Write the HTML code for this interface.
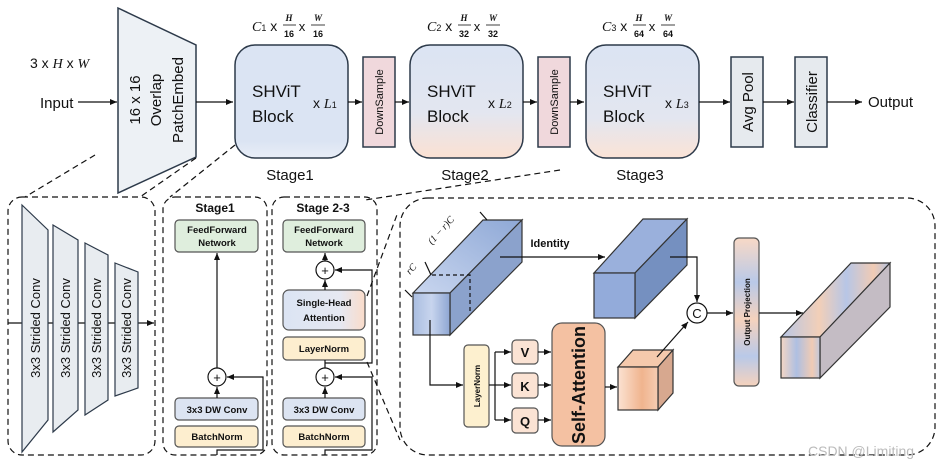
<!DOCTYPE html>
<html><head><meta charset="utf-8"><style>
html,body{margin:0;padding:0;background:#fff}
svg{display:block}
text{font-family:"Liberation Sans",sans-serif;fill:#111}
.b{font-weight:bold}
.m{font-family:"Liberation Serif",serif;font-style:italic}
</style></head><body>
<svg width="941" height="465" viewBox="0 0 941 465" xmlns="http://www.w3.org/2000/svg">
<defs>
<marker id="a" markerWidth="8" markerHeight="8" refX="7" refY="4" orient="auto" markerUnits="userSpaceOnUse"><path d="M0,1 L7,4 L0,7z" fill="#111"/></marker>
<linearGradient id="s1" x1="0" y1="0" x2="0" y2="1"><stop offset="0" stop-color="#dbe4f3"/><stop offset="0.85" stop-color="#dbe4f3"/><stop offset="1" stop-color="#e9eef7"/></linearGradient>
<linearGradient id="s2" x1="0" y1="0" x2="0" y2="1"><stop offset="0" stop-color="#dbe4f3"/><stop offset="0.6" stop-color="#e3e6f0"/><stop offset="1" stop-color="#fbe1d3"/></linearGradient>
<linearGradient id="s3" x1="0" y1="0" x2="0" y2="1"><stop offset="0" stop-color="#dbe4f3"/><stop offset="0.65" stop-color="#e3e6f0"/><stop offset="1" stop-color="#fbe3d6"/></linearGradient>
<linearGradient id="sha" x1="0" y1="0" x2="1" y2="0"><stop offset="0" stop-color="#dbe4f3"/><stop offset="0.7" stop-color="#e6e8f2"/><stop offset="1" stop-color="#fadcca"/></linearGradient>
<linearGradient id="cf" x1="0" y1="0" x2="1" y2="0"><stop offset="0" stop-color="#a9bde0"/><stop offset="0.5" stop-color="#c8d5ee"/><stop offset="1" stop-color="#8ea6d3"/></linearGradient>
<linearGradient id="ct" x1="0" y1="1" x2="1" y2="0"><stop offset="0" stop-color="#c9d6ef"/><stop offset="1" stop-color="#8ea8d6"/></linearGradient>
<linearGradient id="oc" x1="0" y1="0" x2="1" y2="0"><stop offset="0" stop-color="#fbe2d2"/><stop offset="0.6" stop-color="#f0b48e"/><stop offset="1" stop-color="#f6cdb3"/></linearGradient>
<linearGradient id="op" x1="0" y1="0" x2="0" y2="1"><stop offset="0" stop-color="#f8d9c6"/><stop offset="0.3" stop-color="#b9c9e8"/><stop offset="0.55" stop-color="#f5d2bd"/><stop offset="0.8" stop-color="#b9c9e8"/><stop offset="1" stop-color="#f5d2bd"/></linearGradient>
<linearGradient id="fc" x1="0" y1="0" x2="1" y2="0"><stop offset="0" stop-color="#f4d6c4"/><stop offset="0.4" stop-color="#aebfe2"/><stop offset="0.8" stop-color="#f0cbb4"/><stop offset="1" stop-color="#c0c8dc"/></linearGradient>
<linearGradient id="ft" x1="0" y1="0" x2="1" y2="0"><stop offset="0" stop-color="#b7c6e6"/><stop offset="0.35" stop-color="#f2cfb8"/><stop offset="0.6" stop-color="#b7c6e6"/><stop offset="0.85" stop-color="#f1cbb4"/><stop offset="1" stop-color="#b3c2e0"/></linearGradient>
</defs>
<g stroke="#111" stroke-width="1.2" fill="none">
<!-- top row -->
<line x1="78" y1="102" x2="117" y2="102" marker-end="url(#a)"/>
<polygon points="118,8 196,45 196,157 118,193" fill="#edf1f5" stroke="#2d3a4a" stroke-width="1.5"/>
<line x1="196" y1="102" x2="233" y2="102" marker-end="url(#a)"/>
<rect x="235" y="45" width="113" height="113" rx="20" fill="url(#s1)" stroke="#2d3a4a" stroke-width="1.5"/>
<line x1="348" y1="102" x2="362" y2="102" marker-end="url(#a)"/>
<rect x="363" y="57" width="32" height="90" fill="#f0d8dc" stroke="#2d3a4a" stroke-width="1.5"/>
<line x1="395" y1="102" x2="409" y2="102" marker-end="url(#a)"/>
<rect x="410" y="45" width="113" height="113" rx="20" fill="url(#s2)" stroke="#2d3a4a" stroke-width="1.5"/>
<line x1="523" y1="102" x2="537" y2="102" marker-end="url(#a)"/>
<rect x="538" y="57" width="32" height="90" fill="#f0d8dc" stroke="#2d3a4a" stroke-width="1.5"/>
<line x1="570" y1="102" x2="584" y2="102" marker-end="url(#a)"/>
<rect x="586" y="45" width="113" height="113" rx="20" fill="url(#s3)" stroke="#2d3a4a" stroke-width="1.5"/>
<line x1="699" y1="102" x2="730" y2="102" marker-end="url(#a)"/>
<rect x="731" y="57" width="32" height="90" fill="#e6eaee" stroke="#2d3a4a" stroke-width="1.5"/>
<line x1="763" y1="102" x2="794" y2="102" marker-end="url(#a)"/>
<rect x="795" y="57" width="32" height="90" fill="#e6eaee" stroke="#2d3a4a" stroke-width="1.5"/>
<line x1="827" y1="102" x2="862" y2="102" marker-end="url(#a)"/>
<!-- dashed connectors -->
<g stroke-dasharray="6,4">
<line x1="95" y1="155" x2="25" y2="197"/>
<line x1="196" y1="158" x2="140" y2="197"/>
<line x1="235" y1="145" x2="170" y2="197"/>
<line x1="560" y1="170" x2="365" y2="200"/>
<line x1="367" y1="296" x2="398" y2="212"/>
<line x1="367" y1="362" x2="400" y2="440"/>
<rect x="8" y="197" width="147" height="258" rx="14"/>
<rect x="163" y="197" width="104" height="258" rx="12"/>
<rect x="272" y="197" width="105" height="258" rx="12"/>
<rect x="400" y="198" width="535" height="257" rx="28"/>
</g>
<!-- panel 1 -->
<line x1="8" y1="323" x2="154" y2="323" marker-end="url(#a)"/>
<polygon points="22,205 48,230 48,420 22,452" fill="#e8ecf0" stroke="#2d3a4a"/>
<polygon points="53,225 78,240 78,410 53,432" fill="#e8ecf0" stroke="#2d3a4a"/>
<polygon points="85,243 108,255 108,400 85,415" fill="#e8ecf0" stroke="#2d3a4a"/>
<polygon points="115,263 138,272 138,388 115,396" fill="#e8ecf0" stroke="#2d3a4a"/>
<!-- stage1 panel -->
<rect x="175" y="220" width="83" height="32" rx="4" fill="#dfeedd" stroke="#555"/>
<rect x="175" y="398" width="83" height="22" rx="4" fill="#dce4f2" stroke="#555"/>
<rect x="175" y="426" width="83" height="21" rx="4" fill="#fdeecf" stroke="#555"/>
<line x1="217" y1="368" x2="217" y2="253" marker-end="url(#a)"/>
<line x1="217" y1="398" x2="217" y2="387" marker-end="url(#a)"/>
<circle cx="217" cy="377" r="9" fill="#fff"/>
<polyline points="217,455 217,450 263,450 263,377 227,377" marker-end="url(#a)"/>
<!-- stage2-3 panel -->
<rect x="283" y="220" width="82" height="32" rx="4" fill="#dfeedd" stroke="#555"/>
<rect x="283" y="290" width="82" height="40" rx="6" fill="url(#sha)" stroke="#555"/>
<rect x="283" y="337" width="82" height="23" rx="4" fill="#fdeecf" stroke="#555"/>
<rect x="283" y="398" width="82" height="22" rx="4" fill="#dce4f2" stroke="#555"/>
<rect x="283" y="426" width="82" height="21" rx="4" fill="#fdeecf" stroke="#555"/>
<line x1="325" y1="261" x2="325" y2="253" marker-end="url(#a)"/>
<line x1="325" y1="290" x2="325" y2="280" marker-end="url(#a)"/>
<circle cx="325" cy="270" r="9" fill="#fff"/>
<line x1="325" y1="368" x2="325" y2="360"/>
<line x1="325" y1="398" x2="325" y2="387" marker-end="url(#a)"/>
<circle cx="325" cy="377" r="9" fill="#fff"/>
<polyline points="325,455 325,450 372,450 372,377 335,377" marker-end="url(#a)"/>
<polyline points="325,363 372,363 372,270 335,270" marker-end="url(#a)"/>
<!-- big cuboid -->
<polygon points="413,293 483,220 522,220 450,293" fill="url(#ct)" stroke="#333"/>
<polygon points="450,293 522,220 522,262 450,335" fill="#8ba2cc" stroke="#333"/>
<rect x="413" y="293" width="37" height="42" fill="url(#cf)" stroke="#333"/>
<polyline points="432,275 470,275 470,313" stroke-dasharray="4,3"/>
<line x1="405" y1="290" x2="412" y2="297"/>
<line x1="425" y1="262" x2="431" y2="275"/>
<line x1="480" y1="212" x2="487" y2="220"/>
<line x1="500" y1="257" x2="605" y2="257" marker-end="url(#a)"/>
<!-- second cuboid -->
<polygon points="594,273 643,219 687,219 635,273" fill="#9ab0dc" stroke="#333"/>
<polygon points="635,273 687,219 687,265 635,318" fill="#7590c0" stroke="#333"/>
<rect x="594" y="273" width="41" height="45" fill="#93abda" stroke="#333"/>
<polyline points="670,257 697,257 697,302" marker-end="url(#a)"/>
<circle cx="697" cy="313" r="10" fill="#fff"/>
<!-- orange cube -->
<polygon points="618,367 633,350 673,350 658,367" fill="#f5c9ac" stroke="#333"/>
<polygon points="658,367 673,350 673,393 658,410" fill="#d7a88f" stroke="#333"/>
<rect x="618" y="367" width="40" height="43" fill="url(#oc)" stroke="#333"/>
<line x1="657" y1="357" x2="688" y2="322" marker-end="url(#a)"/>
<line x1="707" y1="313" x2="733" y2="313" marker-end="url(#a)"/>
<rect x="734" y="238" width="25" height="148" rx="5" fill="url(#op)" stroke="#555"/>
<line x1="759" y1="313" x2="803" y2="313" marker-end="url(#a)"/>
<!-- final cuboid -->
<polygon points="781,337 851,263 890,263 820,337" fill="url(#ft)" stroke="#333"/>
<polygon points="820,337 890,263 890,307 820,378" fill="#c4bcc4" stroke="#333"/>
<rect x="781" y="337" width="39" height="41" fill="url(#fc)" stroke="#333"/>
<!-- attention branch -->
<polyline points="430,320 430,385 463,385" marker-end="url(#a)"/>
<rect x="464" y="345" width="25" height="82" rx="4" fill="#fdf0cf" stroke="#555"/>
<line x1="489" y1="385" x2="495" y2="385"/>
<line x1="495" y1="352" x2="495" y2="420"/>
<line x1="495" y1="352" x2="511" y2="352" marker-end="url(#a)"/>
<line x1="495" y1="385" x2="511" y2="385" marker-end="url(#a)"/>
<line x1="495" y1="420" x2="511" y2="420" marker-end="url(#a)"/>
<rect x="512" y="340" width="26" height="24" rx="4" fill="#fbe3d4" stroke="#555"/>
<rect x="512" y="373" width="26" height="25" rx="4" fill="#fbe3d4" stroke="#555"/>
<rect x="512" y="408" width="26" height="25" rx="4" fill="#fbe3d4" stroke="#555"/>
<line x1="538" y1="352" x2="551" y2="352" marker-end="url(#a)"/>
<line x1="538" y1="385" x2="551" y2="385" marker-end="url(#a)"/>
<line x1="538" y1="420" x2="551" y2="420" marker-end="url(#a)"/>
<rect x="552" y="323" width="53" height="123" rx="10" fill="#f4c1a2" stroke="#555"/>
<line x1="605" y1="387" x2="617" y2="387" marker-end="url(#a)"/>
</g>
<!-- texts -->
<text x="30" y="68" font-size="14">3 x <tspan class="m">H</tspan> x <tspan class="m">W</tspan></text>
<text x="40" y="108" font-size="15">Input</text>
<g font-size="15" text-anchor="middle">
<text transform="translate(140,100) rotate(-90)">16 x 16</text>
<text transform="translate(161,100) rotate(-90)">Overlap</text>
<text transform="translate(183,100) rotate(-90)">PatchEmbed</text>
</g>
<g font-size="17">
<text x="252" y="97">SHViT</text><text x="252" y="122">Block</text>
<text x="427" y="97">SHViT</text><text x="427" y="122">Block</text>
<text x="603" y="97">SHViT</text><text x="603" y="122">Block</text>
</g>
<g font-size="14">
<text x="313" y="108">x <tspan class="m">L</tspan><tspan font-size="9">1</tspan></text>
<text x="488" y="108">x <tspan class="m">L</tspan><tspan font-size="9">2</tspan></text>
<text x="665" y="108">x <tspan class="m">L</tspan><tspan font-size="9">3</tspan></text>
<text x="868" y="107" font-size="15">Output</text>
<text x="290" y="180" text-anchor="middle" font-size="15">Stage1</text>
<text x="465" y="180" text-anchor="middle" font-size="15">Stage2</text>
<text x="640" y="180" text-anchor="middle" font-size="15">Stage3</text>
</g>
<g font-size="14">
<text x="252" y="31"><tspan class="m">C</tspan><tspan font-size="9">1</tspan> x</text>
<text x="427" y="31"><tspan class="m">C</tspan><tspan font-size="9">2</tspan> x</text>
<text x="602" y="31"><tspan class="m">C</tspan><tspan font-size="9">3</tspan> x</text>
</g>
<g font-size="9" text-anchor="middle" class="b">
<text x="289" y="21" class="m">H</text><text x="289" y="37">16</text><text x="302" y="31" font-size="13" font-weight="normal">x</text><text x="318" y="21" class="m">W</text><text x="318" y="37">16</text>
<text x="464" y="21" class="m">H</text><text x="464" y="37">32</text><text x="477" y="31" font-size="13" font-weight="normal">x</text><text x="493" y="21" class="m">W</text><text x="493" y="37">32</text>
<text x="639" y="21" class="m">H</text><text x="639" y="37">64</text><text x="652" y="31" font-size="13" font-weight="normal">x</text><text x="668" y="21" class="m">W</text><text x="668" y="37">64</text>
</g>
<g stroke="#111" stroke-width="0.8">
<line x1="283" y1="25" x2="296" y2="25"/><line x1="311" y1="25" x2="325" y2="25"/>
<line x1="458" y1="25" x2="471" y2="25"/><line x1="486" y1="25" x2="500" y2="25"/>
<line x1="633" y1="25" x2="646" y2="25"/><line x1="661" y1="25" x2="675" y2="25"/>
</g>
<g font-size="11" text-anchor="middle">
<text transform="translate(383,102) rotate(-90)">DownSample</text>
<text transform="translate(558,102) rotate(-90)">DownSample</text>
<text transform="translate(753,102) rotate(-90)" font-size="15">Avg Pool</text>
<text transform="translate(817,102) rotate(-90)" font-size="15">Classifier</text>
</g>
<g font-size="13" text-anchor="middle">
<text transform="translate(40,328) rotate(-90)">3x3 Strided Conv</text>
<text transform="translate(70,328) rotate(-90)">3x3 Strided Conv</text>
<text transform="translate(101,328) rotate(-90)">3x3 Strided Conv</text>
<text transform="translate(131,328) rotate(-90)">3x3 Strided Conv</text>
</g>
<g text-anchor="middle" class="b">
<text x="215" y="212" font-size="12">Stage1</text>
<text x="323" y="212" font-size="12">Stage 2-3</text>
<g font-size="9.5">
<text x="217" y="233">FeedForward</text><text x="217" y="246">Network</text>
<text x="217" y="413">3x3 DW Conv</text><text x="217" y="440">BatchNorm</text>
<text x="324" y="233">FeedForward</text><text x="324" y="246">Network</text>
<text x="324" y="306">Single-Head</text><text x="324" y="321">Attention</text>
<text x="324" y="352">LayerNorm</text>
<text x="324" y="413">3x3 DW Conv</text><text x="324" y="440">BatchNorm</text>
</g>
<g font-size="13" font-weight="normal">
<text x="217" y="382">+</text><text x="325" y="382">+</text><text x="325" y="275">+</text>
</g>
<text x="550" y="247" font-size="11">Identity</text>
<text x="525" y="357" font-size="13">V</text>
<text x="525" y="391" font-size="13">K</text>
<text x="525" y="426" font-size="13">Q</text>
<text transform="translate(585,385) rotate(-90)" font-size="18">Self-Attention</text>
<text transform="translate(480,386) rotate(-90)" font-size="8">LayerNorm</text>
<text transform="translate(750,312) rotate(-90)" font-size="8">Output Projection</text>
</g>
<text x="697" y="318" font-size="13" text-anchor="middle">C</text>
<text transform="translate(410,275) rotate(-48)" font-size="10" class="m">rC</text>
<text transform="translate(432,245) rotate(-48)" font-size="10" class="m">(1 − r)C</text>
<text x="808" y="456" font-size="14" fill="#bbb" style="fill:#bbb">CSDN @Limiting</text>
</svg>
</body></html>
